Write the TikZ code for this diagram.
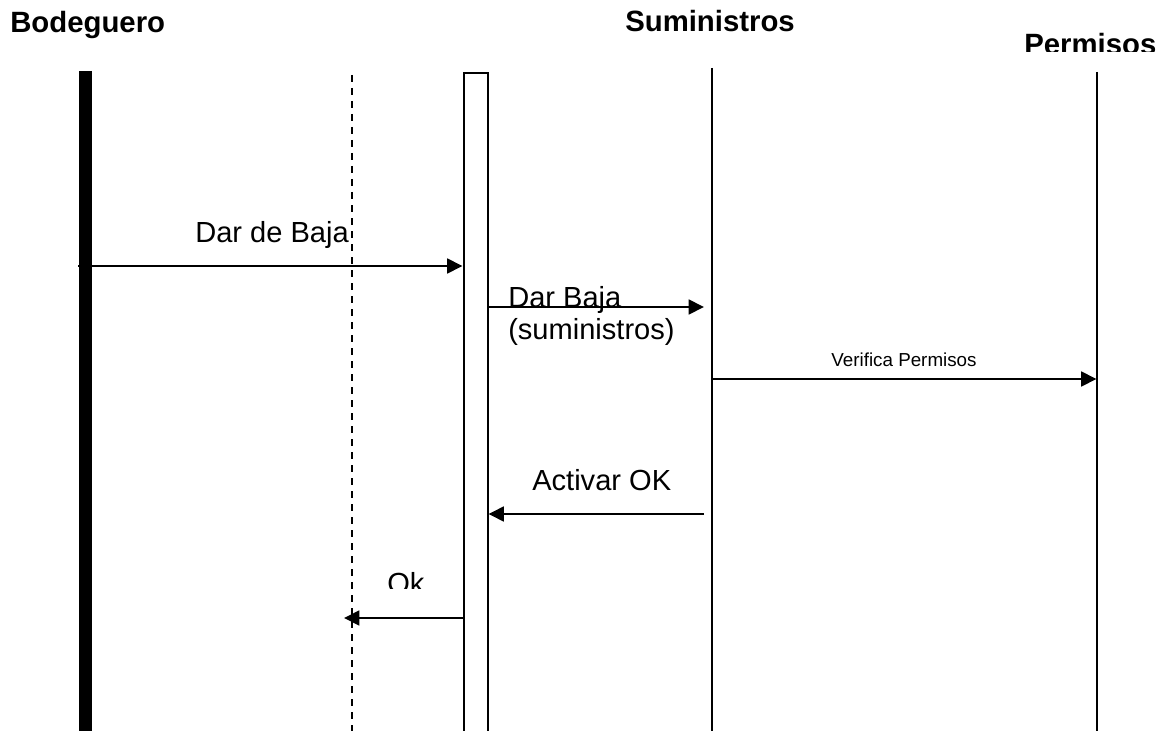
\documentclass[tikz,border=0pt]{standalone}
\usepackage{fontspec}
\setmainfont{Liberation Sans}
\usetikzlibrary{arrows.meta,positioning}

\begin{document}
\begin{tikzpicture}[
    x=0.75pt, y=-0.75pt,
    title/.style={anchor=base west, inner sep=0pt, font=\fontsize{22}{25}\selectfont\bfseries},
    msglabel/.style={anchor=base west, inner sep=0pt, align=left, font=\fontsize{21.8}{24}\selectfont},
    smalllabel/.style={anchor=base, inner sep=0pt, font=\fontsize{14.1}{17}\selectfont},
    lifeline/.style={line width=1.5pt},
    actor/.style={line width=9.5pt},
    msg/.style={-{Triangle[length=11.5pt,width=11pt]}, line width=2pt}
]
    \useasboundingbox (0,0) rectangle (1174,731);

    % Titulos
    \node[title] (bodeguero) at (10,33) {Bodeguero};
    \node[title] (suministros) at (625,32) {Suministros};
    \begin{scope}
        \clip (1000,0) rectangle (1174,52);
        \node[title] (permisos) at (1024,55) {Permisos};
    \end{scope}

    % Lineas de vida
    \coordinate (bod-top) at (85.5,71);
    \coordinate (bod-bot) at (85.5,731);
    \coordinate (dash-top) at (352,75);
    \coordinate (dash-bot) at (352,731);
    \coordinate (sum-top) at (711.5,68);
    \coordinate (sum-bot) at (711.5,731);
    \coordinate (per-top) at (1096.5,72);
    \coordinate (per-bot) at (1096.5,731);

    \draw[actor] (bod-top) -- (bod-bot);
    \draw[lifeline, dash pattern=on 5.25pt off 4.5pt] (dash-top) -- (dash-bot);
    \node[draw, lifeline, minimum width=18pt, minimum height=495pt, inner sep=0pt] (act) at (475.5,403) {};
    \draw[lifeline] (sum-top) -- (sum-bot);
    \draw[lifeline] (per-top) -- (per-bot);

    % Mensajes
    \coordinate (baja) at (78,266);
    \coordinate (bajaSum) at (704,307);
    \coordinate (verif) at (711.5,379);
    \coordinate (activar) at (704,514);
    \coordinate (ok) at (344,618);

    \draw[msg] (baja) -- (baja -| act.west);
    \draw[msg] (bajaSum -| act.east) -- (bajaSum);
    \draw[msg] (verif) -- (verif -| per-top);
    \draw[msg] (activar) -- (activar -| act.east);
    \draw[msg] (ok -| act.west) -- (ok);

    % Etiquetas
    \node[msglabel] (lblBaja) at (195,242) {Dar de Baja};
    \node[msglabel] (lblBajaSum) at (508,339) {Dar Baja\\(suministros)};
    \node[smalllabel] (lblVerif) at (904,366) {Verifica Permisos};
    \node[msglabel] (lblActivar) at (532,490) {Activar OK};
    \begin{scope}
        \clip (370,550) rectangle (440,588);
        \node[msglabel] (lblOk) at (387,593) {Ok};
    \end{scope}

\end{tikzpicture}
\end{document}
